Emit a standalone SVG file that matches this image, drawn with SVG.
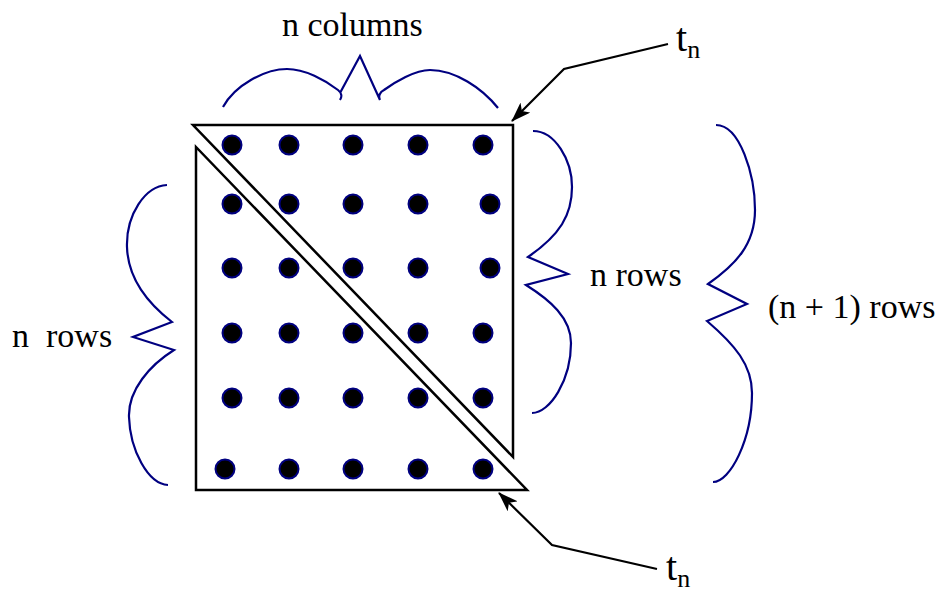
<svg xmlns="http://www.w3.org/2000/svg" width="940" height="593" viewBox="0 0 940 593">
<style>
.tri{fill:none;stroke:#000;stroke-width:2.5;stroke-linejoin:miter}
.brace{fill:none;stroke:#000080;stroke-width:2.2}
.dot{fill:#000;stroke:#000080;stroke-width:2}
.lbl{font-family:"Liberation Serif","Times New Roman",serif;font-size:34px;fill:#000}
.t{font-family:"Liberation Serif","Times New Roman",serif;font-size:40px;fill:#000}
.sub{font-size:26px}
.conn{fill:none;stroke:#000;stroke-width:2.2}
</style>
<defs>
<marker id="ah" viewBox="0 0 20 14" refX="19" refY="7" markerWidth="20" markerHeight="14" markerUnits="userSpaceOnUse" orient="auto">
<path d="M0,0 L20,7 L0,14 L5,7 Z" fill="#000"/>
</marker>
</defs>
<rect width="940" height="593" fill="#fff"/>
<g id="upper-triangle">
<path class="tri" d="M193,125 L513,125 L513,457 Z"/>
</g>
<g id="lower-triangle">
<path class="tri" d="M196,147 L196,490 L527,490 Z"/>
</g>
<g id="dots">
<circle class="dot" cx="232" cy="145" r="9.5"/><circle class="dot" cx="289" cy="145" r="9.5"/><circle class="dot" cx="353" cy="145" r="9.5"/><circle class="dot" cx="418" cy="145" r="9.5"/><circle class="dot" cx="483" cy="145" r="9.5"/>
<circle class="dot" cx="232" cy="204" r="9.5"/><circle class="dot" cx="289" cy="204" r="9.5"/><circle class="dot" cx="353" cy="204" r="9.5"/><circle class="dot" cx="418" cy="204" r="9.5"/><circle class="dot" cx="490" cy="204" r="9.5"/>
<circle class="dot" cx="232" cy="268" r="9.5"/><circle class="dot" cx="289" cy="268" r="9.5"/><circle class="dot" cx="353" cy="268" r="9.5"/><circle class="dot" cx="418" cy="268" r="9.5"/><circle class="dot" cx="490" cy="268" r="9.5"/>
<circle class="dot" cx="232" cy="333" r="9.5"/><circle class="dot" cx="289" cy="333" r="9.5"/><circle class="dot" cx="353" cy="333" r="9.5"/><circle class="dot" cx="418" cy="333" r="9.5"/><circle class="dot" cx="483" cy="333" r="9.5"/>
<circle class="dot" cx="232" cy="398" r="9.5"/><circle class="dot" cx="289" cy="398" r="9.5"/><circle class="dot" cx="353" cy="398" r="9.5"/><circle class="dot" cx="418" cy="398" r="9.5"/><circle class="dot" cx="483" cy="398" r="9.5"/>
<circle class="dot" cx="225" cy="469" r="9.5"/><circle class="dot" cx="289" cy="469" r="9.5"/><circle class="dot" cx="353" cy="469" r="9.5"/><circle class="dot" cx="418" cy="469" r="9.5"/><circle class="dot" cx="483" cy="469" r="9.5"/>
</g>
<g id="brace-columns">
<path class="brace" d="M223,107 C235,85 265,69 287,69 C305,69 325,80 338,90 C342,93 342,97 340,100 M340,93 L360,56 L380,100 M380,100 C378,96 380,92 384,90 C395,82 415,70 430,70 C455,70 482,88 498,108"/>
<text class="lbl" x="282" y="36">n columns</text>
</g>
<g id="brace-left">
<path class="brace" d="M167,185 C145,186 126,215 127,247 C128,280 150,305 172,322 L133,337 L174,350 C150,365 128,390 129,417 C130,450 148,484 168,485"/>
<text class="lbl" x="12" y="347" xml:space="preserve">n  rows</text>
</g>
<g id="brace-right-n">
<path class="brace" d="M533,131 C555,131 572,160 572,187 C572,215 560,235 528,257 L568,274 L526,285 C550,300 571,318 571,343 C571,380 550,413 532,413"/>
<text class="lbl" x="590" y="286">n rows</text>
</g>
<g id="brace-right-n1">
<path class="brace" d="M716,125 C740,125 755,175 755,210 C755,245 735,265 708,284 L747,304 L707,321 C735,345 752,365 752,393 C752,440 730,482 713,482"/>
<text class="lbl" x="768" y="318" xml:space="preserve">(n + 1) rows</text>
</g>
<g id="label-tn-top">
<text class="t" x="676" y="51">t<tspan class="sub" dy="7">n</tspan></text>
</g>
<g id="label-tn-bottom">
<text class="t" x="666" y="580">t<tspan class="sub" dy="7">n</tspan></text>
</g>
<g id="connectors">
<path class="conn" d="M668,44 L564,69 L512,121" marker-end="url(#ah)"/>
<path class="conn" d="M657,569 L552,545 L499,493" marker-end="url(#ah)"/>
</g>
</svg>
